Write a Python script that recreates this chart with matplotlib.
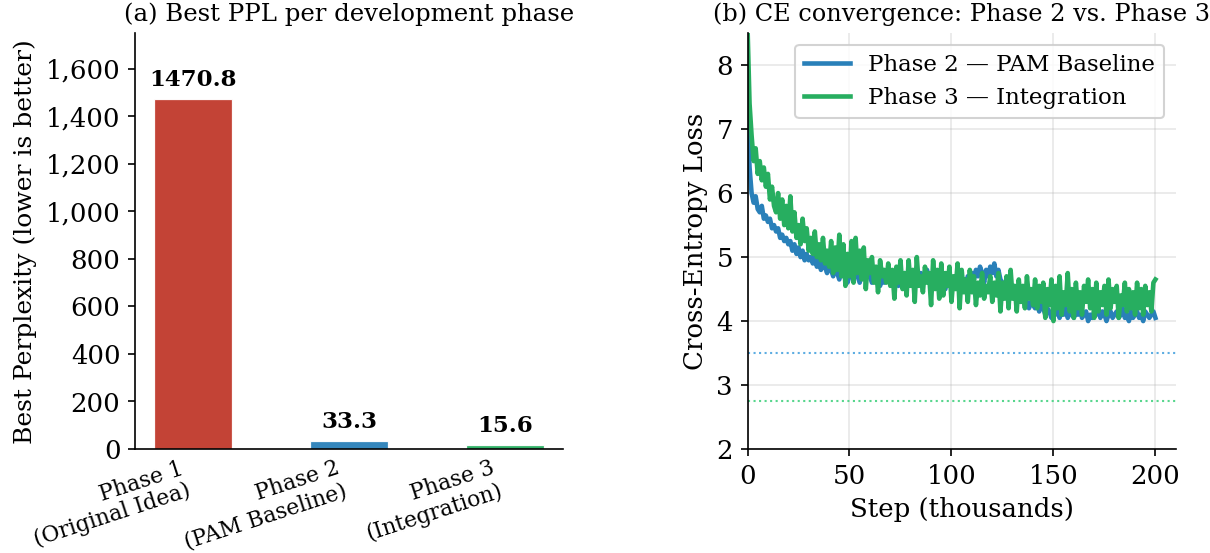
import matplotlib.pyplot as plt
from matplotlib.ticker import FuncFormatter, MultipleLocator

plt.rcParams["font.family"] = "DejaVu Serif"

# (a) best perplexity per phase
phases = ["Phase 1\n(Original Idea)", "Phase 2\n(PAM Baseline)", "Phase 3\n(Integration)"]
best_ppl = [1470.8, 33.3, 15.6]
bar_colors = ["#c0392b", "#2980b9", "#27ae60"]

# (b) CE loss per 1k steps
steps = list(range(0, 201))
ce_phase2 = [
    7.2, 6.4, 6.0, 5.85, 5.95, 5.75, 5.7, 5.8, 5.6, 5.65, 5.55,
    5.6, 5.45, 5.5, 5.4, 5.45, 5.3, 5.35, 5.25, 5.3, 5.2,
    5.25, 5.1, 5.2, 5.05, 5.15, 5.0, 5.1, 4.95, 5.05, 4.95,
    5.0, 4.9, 5.0, 4.85, 4.95, 4.8, 4.9, 4.85, 4.75, 4.9,
    4.8, 4.7, 4.85, 4.75, 4.65, 4.8, 4.7, 4.75, 4.6, 4.7,
    4.75, 4.65, 4.8, 4.7, 4.6, 4.75, 4.7, 4.65, 4.8, 4.7,
    4.6, 4.75, 4.65, 4.7, 4.55, 4.7, 4.6, 4.65, 4.75, 4.6,
    4.7, 4.6, 4.65, 4.55, 4.7, 4.6, 4.75, 4.65, 4.55, 4.7,
    4.6, 4.7, 4.55, 4.65, 4.75, 4.6, 4.7, 4.8, 4.65, 4.6,
    4.7, 4.6, 4.55, 4.65, 4.7, 4.6, 4.5, 4.65, 4.6, 4.55,
    4.6, 4.7, 4.55, 4.65, 4.5, 4.6, 4.55, 4.7, 4.6, 4.75,
    4.65, 4.8, 4.7, 4.85, 4.75, 4.6, 4.8, 4.7, 4.85, 4.75,
    4.9, 4.7, 4.8, 4.65, 4.6, 4.5, 4.55, 4.45, 4.5, 4.4,
    4.45, 4.35, 4.4, 4.3, 4.35, 4.25, 4.3, 4.2, 4.3, 4.25,
    4.2, 4.3, 4.15, 4.25, 4.2, 4.1, 4.2, 4.15, 4.05, 4.15,
    4.1, 4.2, 4.05, 4.15, 4.1, 4.2, 4.05, 4.15, 4.1, 4.05,
    4.15, 4.1, 4.2, 4.05, 4.1, 4.15, 4.0, 4.1, 4.05, 4.15,
    4.1, 4.2, 4.05, 4.15, 4.1, 4.0, 4.1, 4.15, 4.05, 4.1,
    4.15, 4.05, 4.1, 4.2, 4.05, 4.1, 4.0, 4.15, 4.05, 4.1,
    4.15, 4.05, 4.1, 4.0, 4.15, 4.1, 4.05, 4.1, 4.15, 4.05,
]
ce_phase3 = [
    8.6, 7.4, 6.9, 6.5, 6.7, 6.3, 6.5, 6.2, 6.4, 6.1, 6.3,
    5.9, 6.1, 5.8, 5.7, 6.0, 5.6, 5.9, 5.5, 5.8, 5.45,
    5.95, 5.4, 5.7, 5.3, 5.5, 5.2, 5.6, 5.25, 5.45, 5.1,
    5.3, 5.05, 5.4, 5.0, 5.2, 4.95, 5.3, 4.9, 5.1, 4.85,
    5.25, 4.75, 5.15, 4.8, 5.35, 4.7, 5.2, 4.55, 5.05, 4.7,
    5.25, 4.6, 5.3, 4.75, 5.1, 4.65, 5.15, 4.5, 4.95, 4.75,
    5.0, 4.6, 4.85, 4.45, 4.95, 4.7, 4.8, 4.6, 4.9, 4.55,
    4.8, 4.35, 4.85, 4.6, 4.95, 4.5, 4.75, 4.4, 4.95, 4.55,
    4.8, 4.3, 5.0, 4.55, 4.7, 4.45, 4.85, 4.6, 4.75, 4.25,
    4.95, 4.5, 4.8, 4.35, 4.9, 4.4, 4.75, 4.55, 4.85, 4.3,
    4.7, 4.5, 4.9, 4.2, 4.8, 4.45, 4.65, 4.3, 4.8, 4.45,
    4.7, 4.25, 4.6, 4.4, 4.75, 4.35, 4.55, 4.45, 4.7, 4.3,
    4.6, 4.4, 4.75, 4.15, 4.6, 4.35, 4.7, 4.2, 4.8, 4.35,
    4.55, 4.15, 4.65, 4.3, 4.55, 4.2, 4.7, 4.35, 4.5, 4.25,
    4.65, 4.2, 4.55, 4.3, 4.6, 4.05, 4.5, 4.25, 4.65, 4.0,
    4.55, 4.2, 4.7, 4.1, 4.45, 4.25, 4.75, 4.15, 4.5, 4.05,
    4.6, 4.2, 4.45, 4.1, 4.55, 4.3, 4.65, 4.2, 4.5, 4.05,
    4.6, 4.15, 4.45, 4.25, 4.55, 4.1, 4.65, 4.2, 4.5, 4.3,
    4.55, 4.05, 4.4, 4.25, 4.6, 4.15, 4.5, 4.2, 4.45, 4.1,
    4.6, 4.2, 4.5, 4.1, 4.55, 4.25, 4.45, 4.15, 4.6, 4.65,
]
target_phase2 = 3.5
target_phase3 = 2.75

fig, (ax1, ax2) = plt.subplots(1, 2, figsize=(8.073, 3.687), dpi=150)
fig.subplots_adjust(left=0.1115, right=0.971, bottom=0.188, top=0.94, wspace=0.43)

# left panel
x = range(len(phases))
ax1.bar(x, best_ppl, width=0.5, color=bar_colors, edgecolor="white", linewidth=0.6, alpha=0.95)
for i, v in enumerate(best_ppl):
    ax1.text(i, v + 35, f"{v:.1f}", ha="center", va="bottom", fontsize=11, fontweight="bold")
ax1.set_xticks(list(x))
ax1.set_xticklabels(phases, rotation=18, ha="right", fontsize=10.5, linespacing=1.1)
ax1.tick_params(axis="x", length=0, pad=4)
ax1.set_ylim(0, 1750)
ax1.yaxis.set_major_locator(MultipleLocator(200))
ax1.yaxis.set_major_formatter(FuncFormatter(lambda v, p: f"{int(v):,}"))
ax1.tick_params(axis="y", labelsize=12.5)
ax1.set_ylabel("Best Perplexity (lower is better)", fontsize=12)
ax1.set_title("(a) Best PPL per development phase", fontsize=11.7)
ax1.spines["top"].set_visible(False)
ax1.spines["right"].set_visible(False)

# right panel
ax2.plot(steps, ce_phase2, color="#2980b9", linewidth=2.2, label="Phase 2 — PAM Baseline")
ax2.plot(steps, ce_phase3, color="#27ae60", linewidth=2.2, label="Phase 3 — Integration")
ax2.axhline(target_phase2, color="#5dade2", linestyle=":", linewidth=1.0)
ax2.axhline(target_phase3, color="#58d68d", linestyle=":", linewidth=1.0)
ax2.set_xlim(0, 210)
ax2.set_ylim(2, 8.5)
ax2.tick_params(labelsize=12.5)
ax2.set_xlabel("Step (thousands)", fontsize=12.5)
ax2.set_ylabel("Cross-Entropy Loss", fontsize=12.5)
ax2.set_title("(b) CE convergence: Phase 2 vs. Phase 3", fontsize=11.5)
ax2.grid(True, alpha=0.3)
ax2.legend(loc="upper right", fontsize=11, framealpha=0.85)
ax2.spines["top"].set_visible(False)
ax2.spines["right"].set_visible(False)

fig.savefig("out.png", dpi=150)
